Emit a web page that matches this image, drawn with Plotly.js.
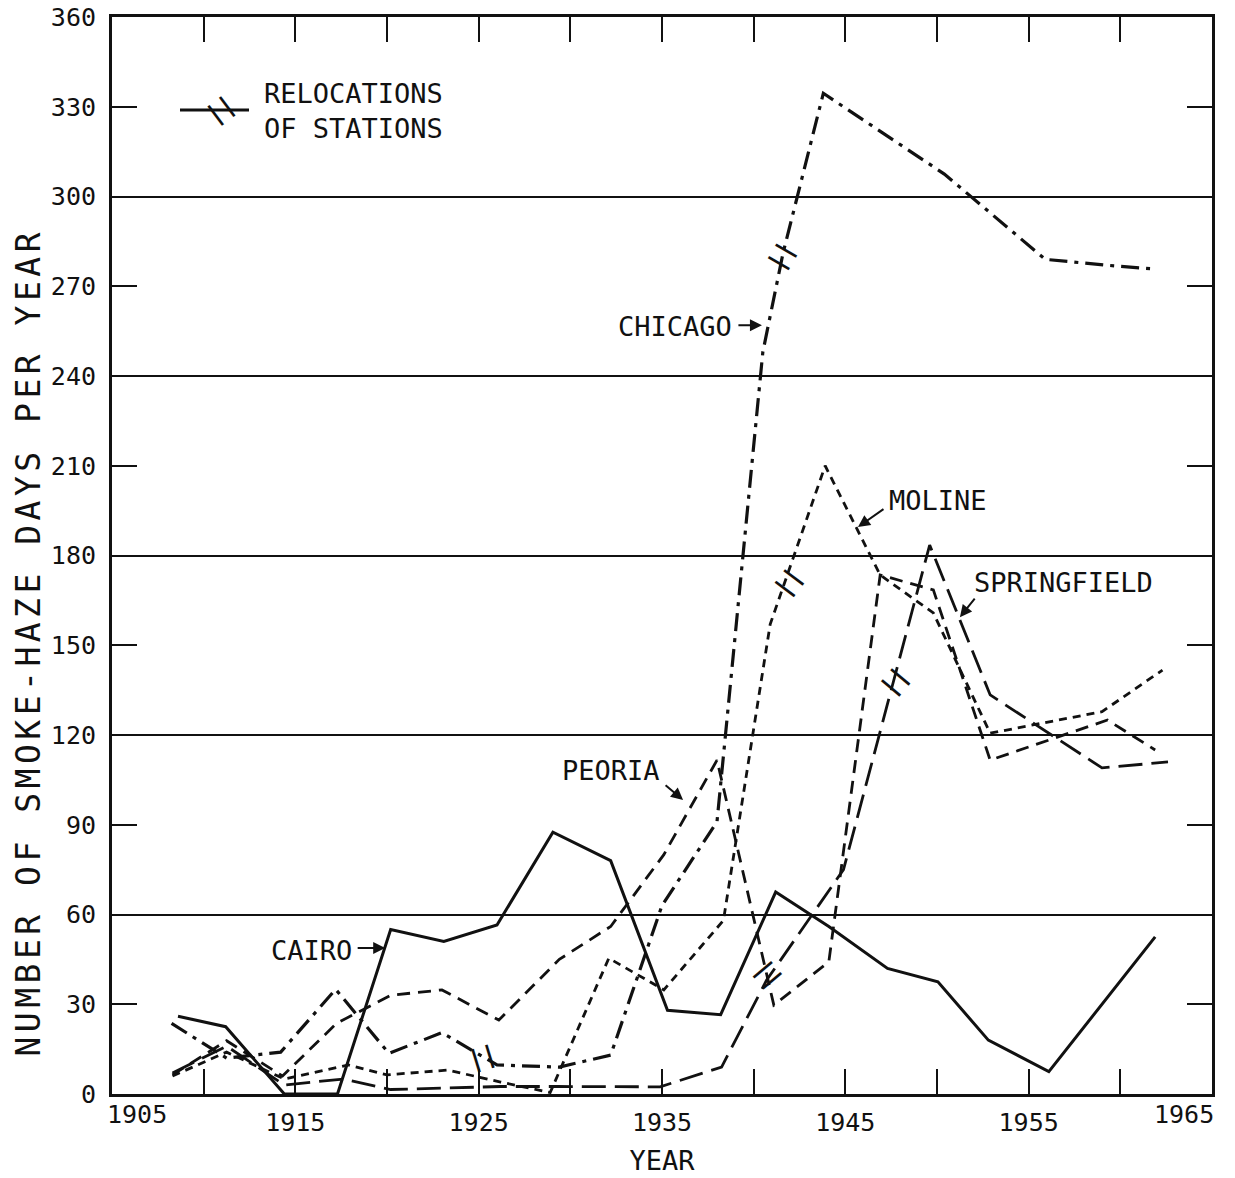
<!DOCTYPE html>
<html>
<head>
<meta charset="utf-8">
<script src="https://cdn.plot.ly/plotly-3.0.1.min.js"></script>
<style>
  html, body { margin: 0; padding: 0; background: #ffffff; }
  #chart { width: 1235px; height: 1178px; }
</style>
</head>
<body>
<div id="chart"></div>
<script>
// ---- data ----
const cairoYears = [1908.6, 1911.2, 1914.4, 1917.3, 1920.2, 1923.1, 1926.0, 1929.05, 1932.2, 1935.3, 1938.2, 1941.2, 1944.1, 1947.3, 1950.05, 1952.8, 1956.1, 1961.9];
const cairoDays  = [26, 22.5, 0, 0, 55, 51, 56.5, 87.5, 78, 28, 26.5, 67.5, 56, 42, 37.5, 18, 7.5, 52.5];

const chicagoYears = [1908.25, 1911.25, 1914.2, 1917.2, 1920.1, 1923.0, 1926.0, 1929.4, 1932.2, 1935.0, 1938.0, 1940.5, 1941.6, 1943.8, 1950.4, 1955.9, 1959.3, 1961.8];
const chicagoDays  = [23.6, 12, 14, 35, 13.6, 20.5, 9.7, 9, 13, 63, 91, 248, 281, 334.5, 307.5, 279, 277, 275.8];

const peoriaYears = [1908.3, 1911.25, 1914.3, 1917.25, 1920.2, 1923.0, 1926.1, 1929.4, 1932.2, 1935.1, 1938.0, 1941.1, 1944.1, 1946.9, 1949.8, 1952.9, 1959.3, 1961.9];
const peoriaDays  = [6.4, 17.8, 6, 23.6, 33, 34.8, 24.7, 45, 56, 80, 111.6, 29.7, 44.2, 173.5, 168.5, 111.6, 125, 115];

const molineYears = [1908.3, 1911.25, 1914.4, 1917.9, 1920.0, 1923.3, 1926.2, 1928.9, 1932.1, 1935.1, 1938.35, 1940.9, 1943.9, 1946.9, 1949.8, 1952.9, 1959.0, 1962.3];
const molineDays  = [6, 14, 5, 9.7, 6.4, 8, 4, 0.5, 45.4, 34.8, 58, 157, 210, 173.5, 160.8, 120.6, 127.8, 141.7];

const springfieldYears = [1908.3, 1911.25, 1914.4, 1917.6, 1920.2, 1923.3, 1926.2, 1929.3, 1932.2, 1934.9, 1938.25, 1940.7, 1944.9, 1949.6, 1952.9, 1959.0, 1962.6];
const springfieldDays  = [7, 16, 3, 5, 1.5, 2, 2.5, 2.5, 2.5, 2.4, 9, 38, 75, 183.5, 133.4, 109, 111];

// station relocation marks (year, days)
const relocYears = [1925.2, 1940.8, 1941.5, 1941.9, 1947.7];
const relocDays  = [12.4, 40, 280, 171, 138];

const xTickValues = [1905, 1910, 1915, 1920, 1925, 1930, 1935, 1940, 1945, 1950, 1955, 1960, 1965];
const xTickLabels = ['1905', '', '1915', '', '1925', '', '1935', '', '1945', '', '1955', '', '1965'];

const seriesNames = ['CAIRO', 'CHICAGO', 'PEORIA', 'MOLINE', 'SPRINGFIELD'];

// ---- styling ----
const INK = '#111111';
const MONO = 'DejaVu Sans Mono, Liberation Mono, monospace';
const LAST = xTickLabels.length - 1;

function lineTrace(name, xs, ys, dash, width) {
  return {
    type: 'scatter', mode: 'lines', name: name, x: xs, y: ys,
    line: { color: INK, width: width, dash: dash, shape: 'linear' },
    hoverinfo: 'skip', showlegend: false
  };
}

const traces = [
  lineTrace(seriesNames[0], cairoYears, cairoDays, 'solid', 3),
  lineTrace(seriesNames[1], chicagoYears, chicagoDays, '18px,7px,4px,7px', 3.2),
  lineTrace(seriesNames[2], peoriaYears, peoriaDays, '13px,8px', 2.8),
  lineTrace(seriesNames[3], molineYears, molineDays, '8px,6px', 2.8),
  lineTrace(seriesNames[4], springfieldYears, springfieldDays, '24px,9px', 2.8),
  // carrier for the overlay axis that draws the 60-day grid
  { type: 'scatter', mode: 'lines', x: [1905, 1965], y: [0, 360], yaxis: 'y2',
    line: { color: 'rgba(0,0,0,0)', width: 0 }, hoverinfo: 'skip', showlegend: false }
];

// the two end labels sit inside the frame and a little higher, as in the reference
const xTickText = xTickLabels.map((t, i) => (i === 0 || i === LAST) ? '' : t);

const relocAngles = [-17, 50, -60, -53, -50];
const annotations = [];
for (let i = 0; i < relocYears.length; i++) {
  annotations.push({
    x: relocYears[i], y: relocDays[i], xref: 'x', yref: 'y',
    xanchor: 'center', yanchor: 'middle',
    text: '||', showarrow: false, textangle: relocAngles[i],
    font: { family: MONO, size: 24, color: INK, weight: 'bold' }
  });
}

// end x tick labels
annotations.push({
  x: xTickValues[0], xref: 'x', yref: 'paper', y: 1 - (1114 - 17) / 1077,
  xanchor: 'left', yanchor: 'middle', xshift: -7, showarrow: false,
  text: xTickLabels[0], font: { family: MONO, size: 25, color: INK }
});
annotations.push({
  x: xTickValues[LAST], xref: 'x', yref: 'paper', y: 1 - (1114 - 17) / 1077,
  xanchor: 'right', yanchor: 'middle', xshift: 4, showarrow: false,
  text: xTickLabels[LAST], font: { family: MONO, size: 25, color: INK }
});

// station labels
const labelSpecs = [
  { text: 'CAIRO', x: 1915.9, y: 48.1 },
  { text: 'CHICAGO', x: 1935.7, y: 256.5 },
  { text: 'PEORIA', x: 1932.2, y: 108.3 },
  { text: 'MOLINE', x: 1950.05, y: 198.5 },
  { text: 'SPRINGFIELD', x: 1956.9, y: 171.1 }
];
labelSpecs.forEach(s => annotations.push({
  x: s.x, y: s.y, xref: 'x', yref: 'y', xanchor: 'center', yanchor: 'middle',
  text: s.text, showarrow: false,
  font: { family: MONO, size: 27, color: INK }
}));

// arrows (tip at the curve, tail offset in pixels)
const arrowSpecs = [
  { x: 1919.9, y: 48.8, ax: -29, ay: 0 },
  { x: 1940.45, y: 257, ax: -25, ay: 0 },
  { x: 1936.15, y: 98.3, ax: -19, ay: -16 },
  { x: 1945.69, y: 189.5, ax: 27, ay: -19 },
  { x: 1951.25, y: 159.4, ax: 16, ay: -20 }
];
arrowSpecs.forEach(a => annotations.push({
  x: a.x, y: a.y, xref: 'x', yref: 'y', text: '', showarrow: true,
  ax: a.ax, ay: a.ay, arrowhead: 2, arrowsize: 1.2, arrowwidth: 2, arrowcolor: INK, standoff: 0
}));

// legend for relocations
annotations.push({
  xref: 'paper', yref: 'paper', x: (262 - 112) / 1100, y: 1 - (111 - 17) / 1077,
  xanchor: 'left', yanchor: 'middle', align: 'left', showarrow: false,
  text: 'RELOCATIONS<br>OF STATIONS',
  font: { family: MONO, size: 27, color: INK }
});
annotations.push({
  xref: 'paper', yref: 'paper', x: (220 - 112) / 1100, y: 1 - (110 - 17) / 1077,
  xanchor: 'center', yanchor: 'middle',
  showarrow: false, text: '||', textangle: -37,
  font: { family: MONO, size: 24, color: INK, weight: 'bold' }
});

// y-axis title (placed as in the reference, slightly below the axis middle)
annotations.push({
  xref: 'paper', yref: 'paper', x: (28 - 112) / 1100, y: 1 - (642 - 17) / 1077,
  xanchor: 'center', yanchor: 'middle', showarrow: false, textangle: -90,
  text: 'NUMBER OF SMOKE-HAZE DAYS PER YEAR',
  font: { family: MONO, size: 33, color: INK }
});

const shapes = [
  { type: 'line', xref: 'paper', yref: 'paper',
    x0: (180 - 112) / 1100, x1: (249 - 112) / 1100,
    y0: 1 - (110 - 17) / 1077, y1: 1 - (110 - 17) / 1077,
    line: { color: INK, width: 3 } }
];

const axisCommon = {
  showline: true, linecolor: INK, linewidth: 3, mirror: 'ticks',
  ticks: 'inside', ticklen: 25, tickwidth: 2, tickcolor: INK,
  zeroline: false, showgrid: false,
  tickfont: { family: MONO, size: 25, color: INK }
};

const layout = {
  width: 1235, height: 1178,
  margin: { l: 112, r: 23, t: 17, b: 84 },
  paper_bgcolor: '#ffffff', plot_bgcolor: '#ffffff',
  showlegend: false,
  xaxis: Object.assign({}, axisCommon, {
    range: [1905, 1965], tickmode: 'array', tickvals: xTickValues, ticktext: xTickText,
    ticklabelstandoff: 4,
    title: { text: 'YEAR', font: { family: MONO, size: 27, color: INK }, standoff: 16 }
  }),
  yaxis: Object.assign({}, axisCommon, {
    range: [0, 360], tickmode: 'linear', tick0: 0, dtick: 30, ticklabelstandoff: 8
  }),
  yaxis2: {
    overlaying: 'y', side: 'right', range: [0, 360], tickmode: 'linear', tick0: 0, dtick: 60,
    showgrid: true, gridcolor: INK, gridwidth: 2, showticklabels: false, ticks: '',
    showline: false, zeroline: false
  },
  annotations: annotations,
  shapes: shapes
};

Plotly.newPlot('chart', traces, layout, { staticPlot: true, displayModeBar: false }).then(() => {
  // widen the letter spacing of the vertical title like the typewritten original
  document.querySelectorAll('.annotation-text').forEach(el => {
    if (el.textContent.indexOf('NUMBER OF') === 0) el.style.letterSpacing = '4.5px';
  });
});
</script>
</body>
</html>
